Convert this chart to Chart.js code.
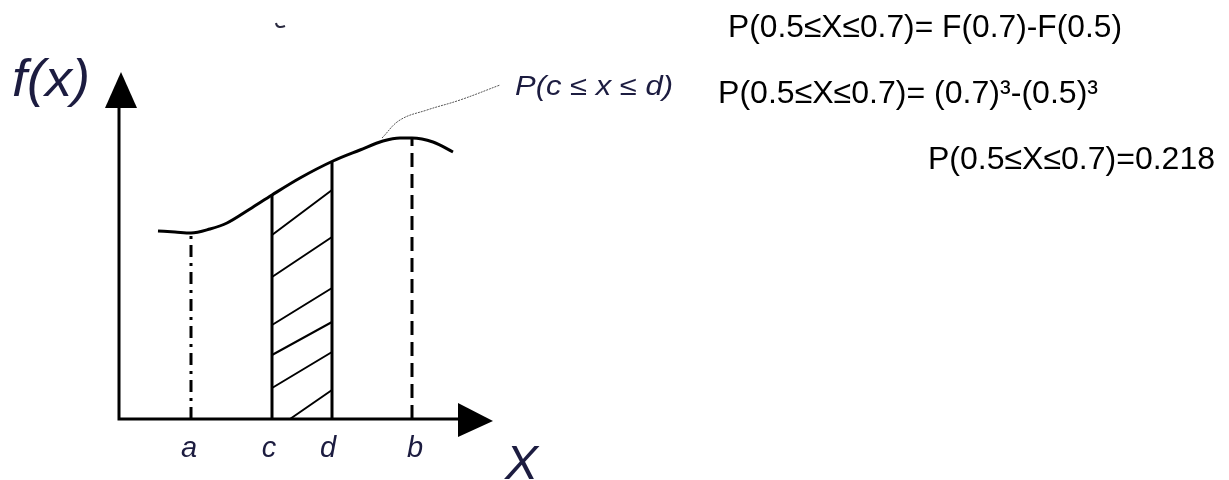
<!DOCTYPE html>
<html>
<head>
<meta charset="utf-8">
<script src="https://cdn.jsdelivr.net/npm/chart.js@4"></script>
<style>
  html, body { margin: 0; padding: 0; background: #fff; }
  #wrap { width: 1229px; height: 480px; position: relative; }
</style>
</head>
<body>
<div id="wrap"><canvas id="pdf-chart"></canvas></div>
<script>
// curve f(x), in axis units (origin at the corner of the axes)
const curveX = [3.9, 5.6, 7.2, 9.1, 10.8, 13.1, 15.3, 18.1, 21.4, 24.1, 26.4, 28.1, 29.3, 31.4, 33.4];
const curveY = [18.8, 18.7, 18.6, 19.0, 19.6, 21.0, 22.4, 24.1, 25.8, 26.9, 27.8, 28.1, 28.1, 27.7, 26.7];

// marked positions on the x axis
const tickNames = ['a', 'c', 'd', 'b'];
const tickValues = [7.2, 15.3, 21.3, 29.3];
const tickHeights = [18.6, 22.4, 25.8, 28.1];

// hatching between c and d: [x1, y1, x2, y2]
const hatchSegments = [
    [15.3, 18.4, 21.3, 22.9],
    [15.3, 14.2, 21.3, 18.2],
    [15.3, 9.4, 21.3, 13.1],
    [15.3, 6.4, 21.3, 9.7],
    [15.3, 3.1, 21.3, 6.7],
    [17.1, 0.0, 21.3, 2.9]
];

// thin leader from the curve to the label
const leaderX = [26.3, 28.1, 30.8, 34.1, 38.1];
const leaderY = [28.1, 29.9, 30.9, 31.9, 33.4];

const axisTopY = 34.7;
const axisEndX = 37.4;

const formulaLines = [
    'P(0.5\u2264X\u22640.7)= F(0.7)-F(0.5)',
    'P(0.5\u2264X\u22640.7)= (0.7)\u00b3-(0.5)\u00b3',
    'P(0.5\u2264X\u22640.7)=0.218'
];

const ink = '#000';
const labelInk = '#1c1c40';

function pts(xs, ys) {
    return xs.map((x, i) => ({ x: x, y: ys[i] }));
}

// hatch segments joined into one dataset with gaps
const hatchData = [];
hatchSegments.forEach(s => {
    hatchData.push({ x: s[0], y: s[1] }, { x: s[2], y: s[3] }, { x: null, y: null });
});

function vline(i, dash, width) {
    return {
        data: [{ x: tickValues[i], y: 0 }, { x: tickValues[i], y: tickHeights[i] }],
        borderColor: ink,
        borderWidth: width,
        borderDash: dash,
        pointRadius: 0,
        showLine: true,
        fill: false
    };
}

// draws text stretched or squeezed to a given width
function fitText(ctx, text, x, y, width, font, color) {
    ctx.save();
    ctx.font = font;
    ctx.fillStyle = color;
    ctx.textBaseline = 'alphabetic';
    const w = ctx.measureText(text).width;
    ctx.translate(x, y);
    ctx.scale(width / w, 1);
    ctx.fillText(text, 0, 0);
    ctx.restore();
}

const diagramPlugin = {
    id: 'diagram',
    beforeDatasetsDraw(chart) {
        const ctx = chart.ctx;
        const xs = chart.scales.x, ys = chart.scales.y;
        const ox = xs.getPixelForValue(0), oy = ys.getPixelForValue(0);
        const topY = ys.getPixelForValue(axisTopY);
        const endX = xs.getPixelForValue(axisEndX);

        ctx.save();
        ctx.strokeStyle = ink;
        ctx.fillStyle = ink;
        ctx.lineWidth = 3;
        ctx.beginPath();
        ctx.moveTo(ox, topY + 36);
        ctx.lineTo(ox, oy);
        ctx.lineTo(endX - 35, oy);
        ctx.stroke();

        // arrow heads
        ctx.beginPath();
        ctx.moveTo(ox + 2, topY);
        ctx.lineTo(ox + 18, topY + 36);
        ctx.lineTo(ox - 14, topY + 36);
        ctx.closePath();
        ctx.fill();
        ctx.beginPath();
        ctx.moveTo(endX, oy + 2);
        ctx.lineTo(endX - 35, oy + 18);
        ctx.lineTo(endX - 35, oy - 16);
        ctx.closePath();
        ctx.fill();
        ctx.restore();
    },
    afterDraw(chart) {
        const ctx = chart.ctx;
        const xs = chart.scales.x, ys = chart.scales.y;
        const oy = ys.getPixelForValue(0);

        ctx.save();
        ctx.textAlign = 'center';
        ctx.fillStyle = labelInk;
        ctx.font = 'italic 29px "Liberation Sans", Arial, sans-serif';
        const shift = [-2, -3, -4, 3];
        tickNames.forEach((t, i) => {
            ctx.fillText(t, xs.getPixelForValue(tickValues[i]) + shift[i], oy + 38);
        });
        ctx.restore();

        fitText(ctx, 'X', 505, 479, 33, 'italic 48px "Liberation Sans", Arial, sans-serif', labelInk);
        fitText(ctx, 'f(x)', 12, 96, 78, 'italic 52px "Liberation Sans", Arial, sans-serif', labelInk);
        fitText(ctx, 'P(c \u2264 x \u2264 d)', 515, 95, 158, 'italic 27px "Liberation Sans", Arial, sans-serif', labelInk);

        // small stray mark at the top
        ctx.save();
        ctx.strokeStyle = '#2a2a40';
        ctx.lineWidth = 2;
        ctx.beginPath();
        ctx.moveTo(276, 23);
        ctx.quadraticCurveTo(277, 29, 285, 26);
        ctx.stroke();
        ctx.restore();

        fitText(ctx, formulaLines[0], 728, 37, 394, '32px "Liberation Sans", Arial, sans-serif', '#000');
        fitText(ctx, formulaLines[1], 718, 103, 380, '32px "Liberation Sans", Arial, sans-serif', '#000');
        fitText(ctx, formulaLines[2], 928, 169, 287, '32px "Liberation Sans", Arial, sans-serif', '#000');
    }
};

new Chart(document.getElementById('pdf-chart'), {
    type: 'scatter',
    data: {
        datasets: [
            {
                data: pts(curveX, curveY),
                borderColor: ink,
                borderWidth: 3,
                pointRadius: 0,
                showLine: true,
                tension: 0.4,
                cubicInterpolationMode: 'monotone',
                fill: false
            },
            vline(0, [12, 6, 3, 6], 3),
            vline(1, [], 3),
            vline(2, [], 3),
            vline(3, [14, 7], 3),
            {
                data: hatchData,
                borderColor: ink,
                borderWidth: 2,
                pointRadius: 0,
                showLine: true,
                spanGaps: false,
                fill: false
            },
            {
                data: pts(leaderX, leaderY),
                borderColor: '#555',
                borderWidth: 1,
                borderDash: [2, 1],
                pointRadius: 0,
                showLine: true,
                tension: 0.4,
                fill: false
            }
        ]
    },
    options: {
        responsive: true,
        maintainAspectRatio: false,
        animation: false,
        layout: { padding: 0 },
        plugins: {
            legend: { display: false },
            tooltip: { enabled: false }
        },
        scales: {
            x: { type: 'linear', min: -11.9, max: 111.0, display: false },
            y: { type: 'linear', min: -6.1, max: 41.9, display: false }
        }
    },
    plugins: [diagramPlugin]
});
</script>
</body>
</html>
